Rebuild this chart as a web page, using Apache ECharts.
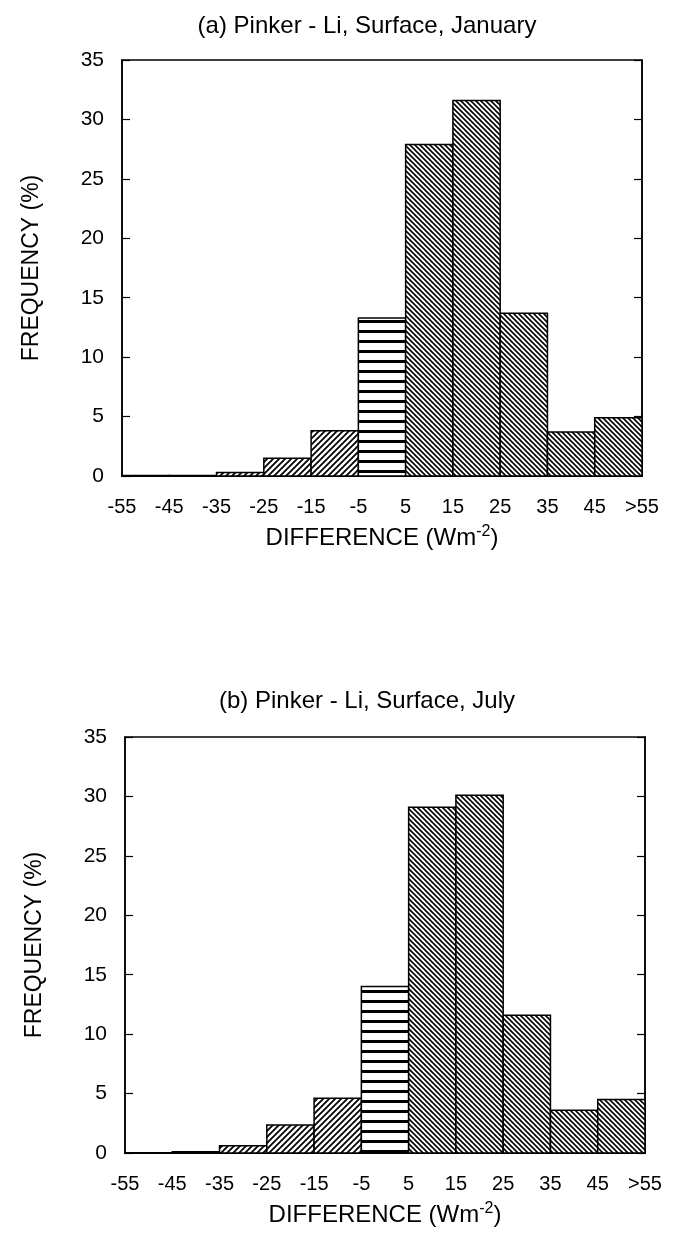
<!DOCTYPE html>
<html><head><meta charset="utf-8">
<script src="https://cdn.jsdelivr.net/npm/echarts@6/dist/echarts.min.js"></script>
<style>html,body{margin:0;padding:0;background:#fff}#c{width:674px;height:1233px}</style>
</head><body><div id="c"></div>
<script>
// ---- data ----
const binStart = [-55, -45, -35, -25, -15, -5, 5, 15, 25, 35, 45];
const binEnd   = [-45, -35, -25, -15, -5, 5, 15, 25, 35, 45, 55];
const hatchKind = ['fwd','fwd','fwd','fwd','fwd','horiz','back','back','back','back','back'];
const janFreq = [0.05, 0.05, 0.3, 1.5, 3.8, 13.3, 27.9, 31.6, 13.7, 3.7, 4.9];
const julFreq = [0.02, 0.1, 0.6, 2.35, 4.6, 14.0, 29.1, 30.1, 11.6, 3.6, 4.5];
const xTickValues = [-55, -45, -35, -25, -15, -5, 5, 15, 25, 35, 45, 55];
const xTickLabels = ['-55', '-45', '-35', '-25', '-15', '-5', '5', '15', '25', '35', '45', '>55'];
const panelTitles = ['(a) Pinker - Li, Surface, January', '(b) Pinker - Li, Surface, July'];
const yName = 'FREQUENCY (%)';

// ---- hatch patterns ----
function makePattern(kind) {
  const c = document.createElement('canvas');
  const ctx = c.getContext('2d');
  if (kind === 'horiz') {
    c.width = 10; c.height = 10;
    ctx.fillStyle = '#fff'; ctx.fillRect(0, 0, 10, 10);
    ctx.fillStyle = '#000'; ctx.fillRect(0, 0, 10, 3);
  } else {
    const p = kind === 'fwd' ? 6 : 5;
    c.width = p; c.height = p;
    ctx.fillStyle = '#fff'; ctx.fillRect(0, 0, p, p);
    ctx.strokeStyle = '#000'; ctx.lineWidth = kind === 'fwd' ? 1.8 : 1.6;
    ctx.beginPath();
    if (kind === 'fwd') {
      ctx.moveTo(-1, p + 1); ctx.lineTo(p + 1, -1);
      ctx.moveTo(-1, 1); ctx.lineTo(1, -1);
      ctx.moveTo(p - 1, p + 1); ctx.lineTo(p + 1, p - 1);
    } else {
      ctx.moveTo(-1, -1); ctx.lineTo(p + 1, p + 1);
      ctx.moveTo(p - 1, -1); ctx.lineTo(p + 1, 1);
      ctx.moveTo(-1, p - 1); ctx.lineTo(1, p + 1);
    }
    ctx.stroke();
  }
  return { image: c, repeat: 'repeat' };
}
const patterns = { fwd: makePattern('fwd'), back: makePattern('back'), horiz: makePattern('horiz') };

const FONT = 'Liberation Sans, Arial, Helvetica, sans-serif';
const grids = [
  { left: 122, top: 60, width: 520, height: 416 },
  { left: 125, top: 737, width: 520, height: 416 }
];

function renderBar(params, api) {
  const a = api.coord([api.value(0), api.value(2)]);
  const b = api.coord([api.value(1), 0]);
  return {
    type: 'rect',
    shape: { x: a[0], y: a[1], width: b[0] - a[0], height: b[1] - a[1] },
    style: { fill: patterns[hatchKind[params.dataIndex]], stroke: '#000', lineWidth: 1.5 }
  };
}

const option = {
  backgroundColor: '#fff',
  animation: false,
  textStyle: { fontFamily: FONT, color: '#000' },
  title: panelTitles.map((t, i) => ({
    text: t, left: 362, top: i === 0 ? 9 : 684, textAlign: 'center',
    textStyle: { fontFamily: FONT, fontSize: 24, fontWeight: 'normal', color: '#000' }
  })),
  grid: grids.map(g => Object.assign({ show: true, borderColor: '#000', borderWidth: 1.5, backgroundColor: 'transparent', outerBoundsMode: 'none', containLabel: false }, g)),
  xAxis: [0, 1].map(i => ({
    type: 'value', gridIndex: i, min: -55, max: 55, interval: 10,
    axisLine: { show: true, onZero: false, lineStyle: { color: '#000', width: 2 } },
    axisTick: { show: false },
    splitLine: { show: false },
    axisLabel: {
      color: '#000', fontFamily: FONT, fontSize: 20, margin: 21,
      formatter: v => { const k = xTickValues.indexOf(v); return k >= 0 ? xTickLabels[k] : ''; }
    },
    name: '{a|DIFFERENCE (Wm}{s|-2}{a|)}',
    nameLocation: 'middle', nameGap: 48,
    nameTextStyle: {
      rich: {
        a: { fontFamily: FONT, fontSize: 24, color: '#000', lineHeight: 28 },
        s: { fontFamily: FONT, fontSize: 16, color: '#000', verticalAlign: 'top', lineHeight: 28, padding: [0, 0, 12, 0] }
      }
    }
  })),
  yAxis: [0, 1].flatMap(i => [
    {
      type: 'value', gridIndex: i, min: 0, max: 35, interval: 5, position: 'left',
      axisLine: { show: true, onZero: false, lineStyle: { color: '#000', width: 1.5 } },
      axisTick: { show: true, inside: true, length: 8, lineStyle: { color: '#000', width: 1.2 } },
      splitLine: { show: false },
      axisLabel: { color: '#000', fontFamily: FONT, fontSize: 21, margin: 18 },
      name: yName, nameLocation: 'middle', nameRotate: 90, nameGap: 79,
      nameTextStyle: { fontFamily: FONT, fontSize: 23, color: '#000' }
    },
    {
      type: 'value', gridIndex: i, min: 0, max: 35, interval: 5, position: 'right',
      axisLine: { show: true, onZero: false, lineStyle: { color: '#000', width: 1.5 } },
      axisTick: { show: true, inside: true, length: 8, lineStyle: { color: '#000', width: 1.2 } },
      splitLine: { show: false },
      axisLabel: { show: false }
    }
  ]),
  series: [janFreq, julFreq].map((vals, i) => ({
    type: 'custom', xAxisIndex: i, yAxisIndex: i * 2,
    renderItem: renderBar,
    encode: { x: [0, 1], y: 2 },
    data: binStart.map((s, k) => [s, binEnd[k], vals[k]])
  }))
};

const chart = echarts.init(document.getElementById('c'), null, { renderer: 'canvas' });
chart.setOption(option);
</script>
</body></html>
